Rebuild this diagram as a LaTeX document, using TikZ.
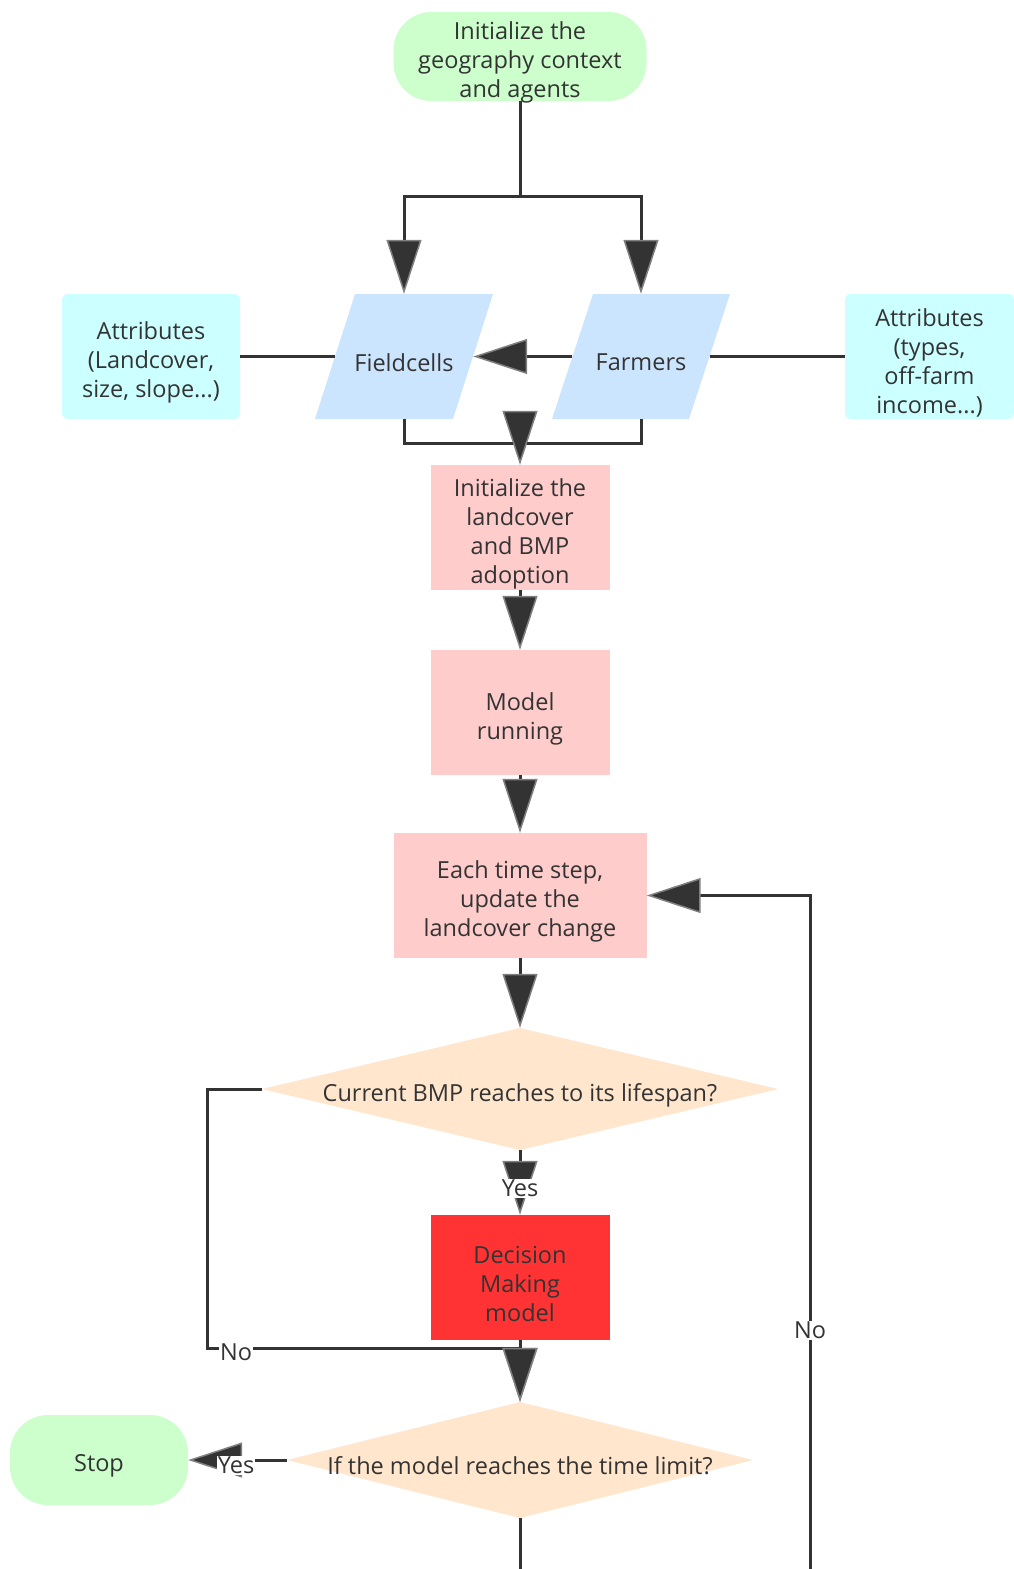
\documentclass[tikz,border=0pt]{standalone}
\usepackage{fontspec}
\setmainfont{Open Sans}
\usetikzlibrary{arrows.meta,calc}
\definecolor{ink}{HTML}{333333}
\definecolor{cgreen}{HTML}{CCFFCC}
\definecolor{ccyan}{HTML}{CCFFFF}
\definecolor{cblue}{HTML}{CCE5FF}
\definecolor{cpink}{HTML}{FFCCCC}
\definecolor{cpeach}{HTML}{FFE6CC}
\definecolor{cred}{HTML}{FF3333}
\begin{document}
\begin{tikzpicture}[x=1pt,y=-1pt,
  txt/.style={text=ink,align=center,font=\fontsize{23.5}{29}\selectfont,inner sep=0pt},
  tx/.style={inner sep=0pt,label={[txt,yshift=-6pt]center:{#1}}},
  term/.style={fill=cgreen,rounded corners=38pt},
  attr/.style={fill=ccyan,rounded corners=6pt},
  proc/.style={fill=cpink},
  lbl/.style={text=ink,font=\fontsize{23.5}{27}\selectfont,fill=white,inner sep=1pt},
  conn/.style={draw=ink,line width=3pt},
  arr/.style={conn,-{Triangle[length=54pt,width=35pt,color=black!50,fill=ink,line width=1.5pt]}}
]
\useasboundingbox (0,0) rectangle (1014,1569);
\clip (0,0) rectangle (1014,1569);

% start
\node[term,minimum width=253pt,minimum height=89pt,tx={Initialize the\\geography context\\and agents}] (start) at (520,56.5) {};

% parallelogram fills
\fill[cblue] (355,294) -- (493,294) -- (453,419) -- (315,419) -- cycle;
\fill[cblue] (593,294) -- (730,294) -- (689,419) -- (552,419) -- cycle;
\node[minimum width=138pt,minimum height=125pt,tx={Fieldcells}] (fc) at (404,356.5) {};
\node[minimum width=137pt,minimum height=125pt,tx={Farmers}] (fa) at (641,356.5) {};

\node[attr,minimum width=178pt,minimum height=125pt,tx={Attributes\\(Landcover,\\size, slope...)}] (al) at (151,356.5) {};
\node[attr,minimum width=169pt,minimum height=125pt,tx={Attributes\\(types,\\off-farm\\income...)}] (ar) at (929.5,356.5) {};

\node[proc,minimum width=179pt,minimum height=125pt,tx={Initialize the\\landcover\\and BMP\\adoption}] (il) at (520,527.5) {};
\node[proc,minimum width=179pt,minimum height=125pt,tx={Model\\running}] (mr) at (520,712.5) {};
\node[proc,minimum width=253pt,minimum height=125pt,tx={Each time step,\\update the\\landcover change}] (ets) at (520,895.5) {};

% diamonds
\fill[cpeach] (262,1089) -- (520,1028) -- (778,1089) -- (520,1150) -- cycle;
\node[minimum width=516pt,minimum height=122pt,tx={Current BMP reaches to its lifespan?}] (d1) at (520,1089) {};
\node[fill=cred,minimum width=179pt,minimum height=125pt,tx={Decision\\Making\\model}] (dm) at (520,1277.5) {};
\fill[cpeach] (287,1460) -- (520,1402) -- (753,1460) -- (520,1518) -- cycle;
\node[minimum width=466pt,minimum height=116pt,tx={If the model reaches the time limit?}] (d2) at (520,1460) {};
\node[term,minimum width=178pt,minimum height=90pt,tx={Stop}] (stop) at (99,1460) {};

% connectors
\coordinate (sp) at (520,196);
\draw[conn] (start.south) -- (sp);
\draw[arr] (sp) -| (fc.north);
\draw[arr] (sp) -| (fa.north);
\draw[arr] (fa.west) -- (fc.east);
\draw[conn] (al.east) -- (fc.west);
\draw[conn] (fa.east) -- (ar.west);
\coordinate (mg) at (520,443);
\draw[conn] (fc.south) |- (mg);
\draw[conn] (fa.south) |- (mg);
\draw[arr] (mg) -- (il.north);
\draw[arr] (il.south) -- (mr.north);
\draw[arr] (mr.south) -- (ets.north);
\draw[arr] (ets.south) -- (d1.north);
\draw[arr] (d1.south) -- (dm.north);
\node[lbl] (yes1) at (520,1188) {Yes};
\coordinate (nc) at (207,1348);
\draw[arr] (d1.west) -| (nc) -| (d2.north);
\draw[arr] (dm.south) -- (d2.north);
\node[lbl] (no1) at (236,1352) {No};
\draw[arr] (d2.west) -- (stop.east);
\node[lbl] (yes2) at (236,1465) {Yes};
\coordinate (lb) at (520,1620);
\coordinate (rb) at (810,1620);
\draw[arr] (d2.south) -- (lb) -- (rb) |- (ets.east);
\node[lbl] (no2) at (810,1330) {No};
\end{tikzpicture}
\end{document}
